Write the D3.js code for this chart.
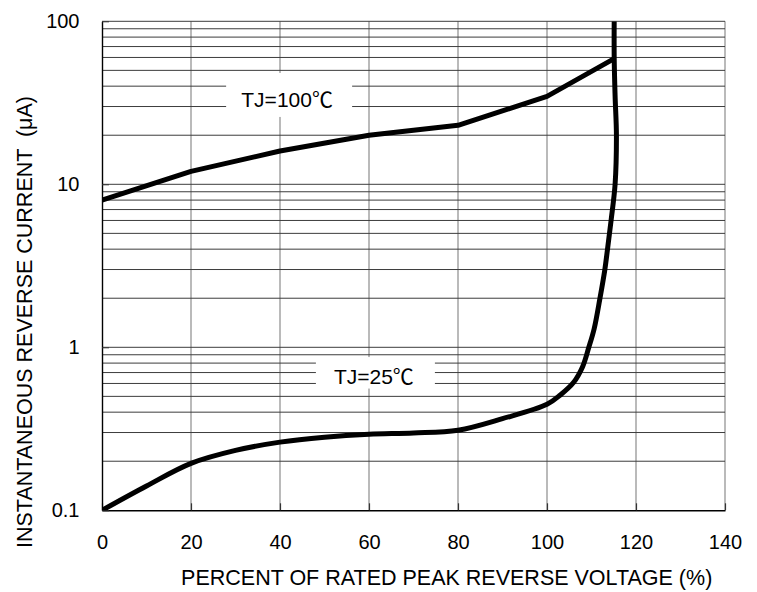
<!DOCTYPE html>
<html>
<head>
<meta charset="utf-8">
<script src="https://cdn.jsdelivr.net/npm/d3@7"></script>
<style>
  html, body { margin: 0; padding: 0; background: #fff; }
  svg { display: block; }
  text { font-family: "Liberation Sans", Arial, "Noto Sans CJK SC", sans-serif; fill: #000; }
</style>
</head>
<body>
<svg id="chart" width="757" height="592"></svg>
<script>
// ---- data ----
const xTicks = [0, 20, 40, 60, 80, 100, 120, 140];
const yTicks = [0.1, 1, 10, 100];
const yTickLabels = ["0.1", "1", "10", "100"];
const xTitle = "PERCENT OF RATED PEAK REVERSE VOLTAGE (%)";
const yTitle = "INSTANTANEOUS REVERSE CURRENT  (\u03bcA)";

// TJ = 100 °C  (percent, µA)
const tj100X = [0, 20, 40, 60, 80, 100, 115.1];
const tj100Y = [8, 12, 16, 20, 23, 34.6, 59];
// TJ = 25 °C  (percent, µA)
const tj25X = [0, 10, 20, 30, 40, 50, 60, 70, 80, 90, 100, 103, 106, 108, 109.4, 110.6, 111.9, 113, 113.6, 114.4, 115.3, 115.6, 115.3, 115.1, 115.1];
const tj25Y = [0.1, 0.141, 0.194, 0.233, 0.262, 0.281, 0.293, 0.298, 0.31, 0.365, 0.447, 0.51, 0.61, 0.76, 1.0, 1.3, 2, 3, 4, 6, 10, 20, 35, 60, 100];

// curve labels: anchor (percent, µA) = text centre / baseline
const labelText = ["TJ=100\u2103", "TJ=25\u2103"];
const labelX = [41.6, 61.1];
const labelY = [29.7, 0.595];

// ---- layout ----
const svg = d3.select("#chart");
const L = 102, R = 725, T = 21.3, B = 510.3;
const x = d3.scaleLinear().domain([0, 140]).range([L, R]);
const y = d3.scaleLog().domain([0.1, 100]).range([B, T]);

// horizontal grid values (1..9 per decade)
const hGrid = [];
[0.1, 1, 10].forEach(d => { for (let m = 1; m <= 9; m++) hGrid.push(+(m * d).toPrecision(3)); });
hGrid.push(100);

const grid = svg.append("g");
grid.selectAll("line.v").data(xTicks.slice(1)).join("line")
  .attr("x1", d => x(d)).attr("x2", d => x(d))
  .attr("y1", T).attr("y2", B)
  .attr("stroke", "#8c8c8c").attr("stroke-width", 1.2);
grid.selectAll("line.h").data(hGrid.slice(1)).join("line")
  .attr("x1", L).attr("x2", R)
  .attr("y1", d => y(d)).attr("y2", d => y(d))
  .attr("stroke", "#3c3c3c").attr("stroke-width", 1);

// label boxes (white background interrupting grid), relative to label anchor
const boxPad = [
  { l: 61, r: 65, t: 34.3, b: 9.7 },
  { l: 58, r: 61, t: 27, b: 4.5 }
];
const labels = labelText.map((t, i) => ({ text: t, px: x(labelX[i]), py: y(labelY[i]), pad: boxPad[i] }));
svg.selectAll("rect.box").data(labels).join("rect")
  .attr("x", d => d.px - d.pad.l).attr("y", d => d.py - d.pad.t)
  .attr("width", d => d.pad.l + d.pad.r).attr("height", d => d.pad.t + d.pad.b)
  .attr("fill", "#fff");

// axes
const xAxis = d3.axisBottom(x).tickValues(xTicks).tickFormat(d3.format("d"))
  .tickSizeInner(-7).tickSizeOuter(0).tickPadding(25);
const gx = svg.append("g").attr("transform", `translate(0,${B})`).call(xAxis);
gx.select(".domain").attr("stroke", "#000").attr("stroke-width", 1.4);
gx.selectAll(".tick line").attr("stroke", "#333").attr("stroke-width", 1.2);
gx.selectAll(".tick text").attr("font-size", 20).attr("font-family", null);

const yAxis = d3.axisLeft(y).tickValues(yTicks).tickFormat((d, i) => yTickLabels[i])
  .tickSizeInner(-7).tickSizeOuter(0).tickPadding(22.5);
const gy = svg.append("g").attr("transform", `translate(${L},0)`).call(yAxis);
gy.select(".domain").attr("stroke", "#000").attr("stroke-width", 1.4);
gy.selectAll(".tick line").attr("stroke", "#333");
gy.selectAll(".tick text").attr("font-size", 20).attr("font-family", null);

// curves
svg.append("clipPath").attr("id", "clip").append("rect")
  .attr("x", L).attr("y", T).attr("width", R - L).attr("height", B - T);

const lineLin = d3.line().x(d => x(d[0])).y(d => y(d[1]));
const lineSmooth = d3.line().x(d => x(d[0])).y(d => y(d[1])).curve(d3.curveCatmullRom.alpha(0.5));

const tj100 = tj100X.map((v, i) => [v, tj100Y[i]]);
const tj25 = tj25X.map((v, i) => [v, tj25Y[i]]);

const curves = svg.append("g").attr("clip-path", "url(#clip)");
curves.append("path").datum(tj100).attr("d", lineLin)
  .attr("fill", "none").attr("stroke", "#000").attr("stroke-width", 5).attr("stroke-linejoin", "round");
curves.append("path").datum(tj25).attr("d", lineSmooth)
  .attr("fill", "none").attr("stroke", "#000").attr("stroke-width", 5).attr("stroke-linejoin", "round");

// curve labels
svg.selectAll("text.lbl").data(labels).join("text")
  .attr("class", "lbl")
  .attr("x", d => d.px).attr("y", d => d.py)
  .attr("text-anchor", "middle")
  .attr("font-size", 21)
  .text(d => d.text);

// axis titles
svg.append("text").attr("x", 446.7).attr("y", 585).attr("text-anchor", "middle")
  .attr("font-size", 21.5).text(xTitle);
svg.append("text").attr("transform", "translate(32,322) rotate(-90)")
  .attr("text-anchor", "middle").attr("font-size", 21.5)
  .style("white-space", "pre").text(yTitle);
</script>
</body>
</html>
